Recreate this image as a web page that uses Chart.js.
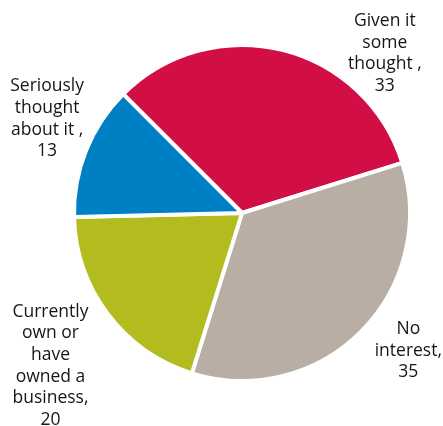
<!DOCTYPE html>
<html>
<head>
<meta charset="utf-8">
<script src="https://cdn.jsdelivr.net/npm/chart.js@4/dist/chart.umd.min.js"></script>
<style>
  html, body { margin: 0; padding: 0; background: #fff; }
  #wrap { position: relative; width: 443px; height: 426px; }
</style>
</head>
<body>
<div id="wrap"><canvas id="pie"></canvas></div>
<script>
// slices, clockwise from the upper left
const categories = [
  ["Given it", "some", "thought ,"],
  ["No", "interest,"],
  ["Currently", "own or", "have", "owned a", "business,"],
  ["Seriously", "thought", "about it ,"]
];
const values = [33, 35, 20, 13];
const colors = ["#D20F45", "#B8AEA3", "#B3BC1F", "#0080C4"];

// where each label block sits, as fractions of the radius from the centre
const labelSpots = [
  { x: 0.85, y: -0.95 },
  { x: 0.99, y: 0.82 },
  { x: -1.14, y: 0.91 },
  { x: -1.16, y: -0.56 }
];

const sliceLabels = {
  id: "sliceLabels",
  afterDatasetsDraw(chart) {
    const ctx = chart.ctx;
    const meta = chart.getDatasetMeta(0);
    ctx.save();
    ctx.font = "17.5px 'Open Sans'";
    ctx.fillStyle = "#161616";
    ctx.textAlign = "center";
    ctx.textBaseline = "middle";
    const lineH = 21.7;
    meta.data.forEach((arc, i) => {
      const r = arc.outerRadius;
      const lines = categories[i].concat(String(values[i]));
      const cx = arc.x + labelSpots[i].x * r;
      const cy = arc.y + labelSpots[i].y * r;
      const top = cy - (lines.length - 1) * lineH / 2;
      lines.forEach((t, j) => ctx.fillText(t, cx, top + j * lineH));
    });
    ctx.restore();
  }
};

new Chart(document.getElementById("pie"), {
  type: "pie",
  data: {
    labels: categories,
    datasets: [{
      data: values,
      backgroundColor: colors,
      borderColor: "#ffffff",
      borderWidth: 4
    }]
  },
  options: {
    responsive: true,
    maintainAspectRatio: false,
    animation: false,
    rotation: -45,
    layout: { padding: { left: 72, right: 31, top: 43, bottom: 43 } },
    plugins: {
      legend: { display: false },
      tooltip: { enabled: false }
    }
  },
  plugins: [sliceLabels]
});
</script>
</body>
</html>
